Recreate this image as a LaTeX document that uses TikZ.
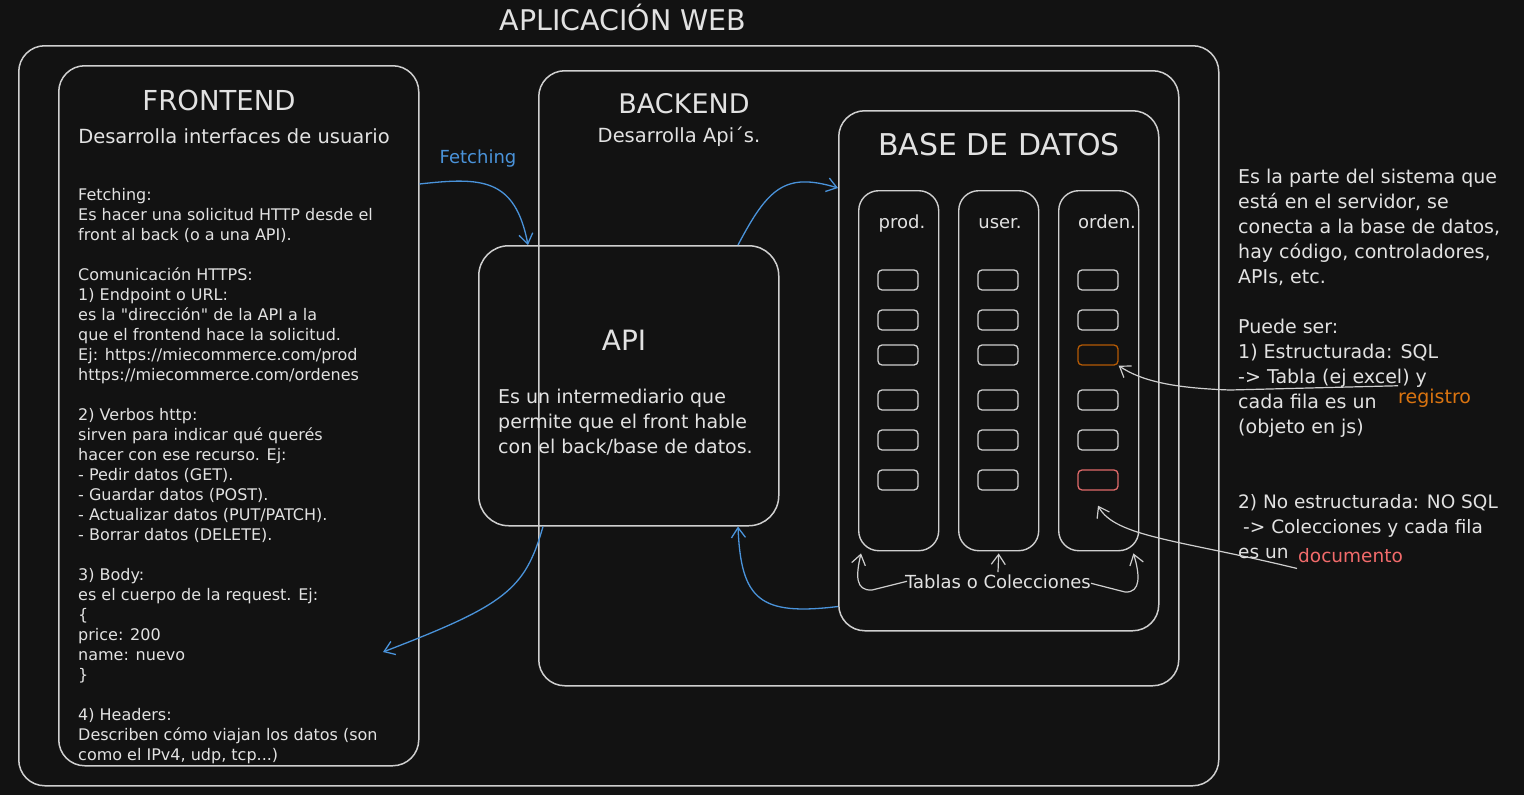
\documentclass[tikz,border=0pt]{standalone}
\usepackage{fontspec}
\setmainfont{DejaVu Sans}
\usetikzlibrary{arrows.meta,calc}
\definecolor{bg}{HTML}{121212}
\definecolor{ln}{HTML}{CFCFCF}
\definecolor{tx}{HTML}{E2E2E2}
\definecolor{bl}{HTML}{4A93DA}
\definecolor{orb}{HTML}{B45A05}
\definecolor{ort}{HTML}{DA7410}
\definecolor{rdb}{HTML}{E06A6A}
\definecolor{rdt}{HTML}{F26B6B}
\newcommand{\fs}[2]{\fontsize{#1}{#2}\selectfont}
\begin{document}
\begin{tikzpicture}[x=1pt,y=-1pt,
  box/.style={draw=ln,line width=1.5pt,rounded corners=26pt,anchor=north west,inner sep=0pt},
  colbox/.style={draw=ln,line width=1.4pt,rounded corners=20pt,anchor=north west,inner sep=0pt,minimum width=80pt,minimum height=360pt},
  rowbox/.style={draw=ln,line width=1.3pt,rounded corners=4pt,inner sep=0pt,minimum width=40pt,minimum height=20pt},
  txt/.style={text=tx,inner sep=0pt},
  barr/.style={draw=bl,line width=1.3pt,-{Straight Barb[length=10pt,width=14pt,line width=1.3pt]}},
  warr/.style={draw=ln,line width=1.2pt,-{Straight Barb[length=10pt,width=14pt,line width=1.2pt]}}]
\fill[bg] (0,0) rectangle (1524,795);
\useasboundingbox (0,0) rectangle (1524,795);

% containers
\node[box,minimum width=1200pt,minimum height=740pt] (app) at (18,45) {};
\node[box,minimum width=360pt,minimum height=700pt] (front) at (58,65) {};
\node[box,minimum width=640pt,minimum height=615pt] (back) at (538,70) {};
\node[box,minimum width=320pt,minimum height=520pt] (db) at (838,110) {};
\node[box,minimum width=300pt,minimum height=280pt,rounded corners=30pt] (api) at (478,245) {};

% titles
\node[txt,anchor=base,font=\fs{28.5}{32}] (tapp) at (623,30) {APLICACIÓN WEB};
\node[txt,anchor=base,font=\fs{27.5}{30}] (tfront) at (219,110) {FRONTEND};
\node[txt,anchor=base,font=\fs{19.5}{24}] (sfront) at (234,143) {Desarrolla interfaces de usuario};
\node[txt,anchor=base,font=\fs{27}{30}] (tback) at (684,113) {BACKEND};
\node[txt,anchor=base,font=\fs{19.5}{24}] (sback) at (679,142) {Desarrolla Api´s.};
\node[txt,anchor=base,font=\fs{30}{34}] (tdb) at (999,155) {BASE DE DATOS};
\node[txt,anchor=base,font=\fs{28}{30}] (tapi) at (624,350) {API};

% frontend body
\node[txt,anchor=north west,align=left,font=\fs{16}{20}] (fbody) at (78,188) {%
Fetching:\\
Es hacer una solicitud HTTP desde el\\
front al back (o a una API).\\
\mbox{}\\
Comunicación HTTPS:\\
1) Endpoint o URL:\\
es la \textquotedbl dirección\textquotedbl{} de la API a la\\
que el frontend hace la solicitud.\\
Ej: https://miecommerce.com/prod\\
https://miecommerce.com/ordenes\\
\mbox{}\\
2) Verbos http:\\
sirven para indicar qué querés\\
hacer con ese recurso. Ej:\\
- Pedir datos (GET).\\
- Guardar datos (POST).\\
- Actualizar datos (PUT/PATCH).\\
- Borrar datos (DELETE).\\
\mbox{}\\
3) Body:\\
es el cuerpo de la request. Ej:\\
\{\\
price: 200\\
name: nuevo\\
\}\\
\mbox{}\\
4) Headers:\\
Describen cómo viajan los datos (son\\
como el IPv4, udp, tcp...)};

% api body
\node[txt,anchor=north west,align=left,font=\fs{19}{25}] (abody) at (498,389) {%
Es un intermediario que\\
permite que el front hable\\
con el back/base de datos.};

% right notes
\node[txt,anchor=north west,align=left,font=\fs{19}{25}] (note1) at (1238,169) {%
Es la parte del sistema que\\
está en el servidor, se\\
conecta a la base de datos,\\
hay código, controladores,\\
APIs, etc.\\
\mbox{}\\
Puede ser:\\
1) Estructurada: SQL\\
-> Tabla (ej excel) y\\
cada fila es un\\
(objeto en js)};
\node[txt,anchor=north west,align=left,font=\fs{18.5}{25}] (note2) at (1238,494) {%
2) No estructurada: NO SQL\\
\hspace{5pt}-> Colecciones y cada fila\\
es un};
\node[text=ort,inner sep=0pt,anchor=base west,font=\fs{19}{24}] (reg) at (1398,403) {registro};
\node[text=rdt,inner sep=0pt,anchor=base west,font=\fs{18.5}{24}] (doc) at (1298,562) {documento};

% db columns
\node[colbox] (prod) at (858,190) {};
\node[colbox] (user) at (958,190) {};
\node[colbox] (orden) at (1058,190) {};
\node[txt,anchor=base,font=\fs{18}{22}] (lprod) at (902,228) {prod.};
\node[txt,anchor=base,font=\fs{18}{22}] (luser) at (1000,228) {user.};
\node[txt,anchor=base,font=\fs{18}{22}] (lorden) at (1107,228) {orden.};

\foreach \c/\cx in {prod/898,user/998} {
  \foreach \r/\ry in {1/280,2/320,3/355,4/400,5/440,6/480} {
    \node[rowbox] (\c\r) at (\cx,\ry) {};
  }
}
\node[rowbox] (orden1) at (1098,280) {};
\node[rowbox] (orden2) at (1098,320) {};
\node[rowbox,draw=orb] (orden3) at (1098,355) {};
\node[rowbox] (orden4) at (1098,400) {};
\node[rowbox] (orden5) at (1098,440) {};
\node[rowbox,draw=rdb] (orden6) at (1098,480) {};

\node[txt,anchor=base,font=\fs{18}{22}] (tablas) at (998,588) {Tablas o Colecciones};

% blue connectors
\node[text=bl,inner sep=0pt,anchor=base,font=\fs{18}{22}] (lfetch) at (478,163) {Fetching};
\draw[barr] ($(front.north east)+(0,119)$) .. controls (482,177) and (515,178) .. ($(api.north west)+(50,0)$);
\draw[barr] ($(api.north west)+(260,0)$) .. controls (768,188) and (785,172) .. ($(db.north west)+(0,78)$);
\draw[barr] ($(api.south west)+(65,0)$) .. controls (525,590) and (505,605) .. (383,652);
\draw[barr] ($(db.south west)+(0,-25)$) .. controls (760,616) and (741,600) .. ($(api.south west)+(260,0)$);

% white connectors
\draw[warr] ($(reg.west)+(0,-12)$) -- (1230,390) .. controls (1170,388) and (1140,380) .. (orden3.south east);
\draw[warr] ($(doc.south west)+(-1,6)$) .. controls (1180,540) and (1115,537) .. ($(orden6.south)+(0,15)$);
\draw[warr] ($(tablas.west)+(2,0)$) -- (872,590) .. controls (855,591) and (856,575) .. ($(prod.south west)+(3,2)$);
\draw[warr] ($(tablas.north)+(0,-2)$) -- ($(user.south)+(0,2)$);
\draw[warr] ($(tablas.east)+(0,2)$) -- (1125,592) .. controls (1141,593) and (1140,575) .. ($(orden.south east)+(-6,2)$);
\end{tikzpicture}
\end{document}
